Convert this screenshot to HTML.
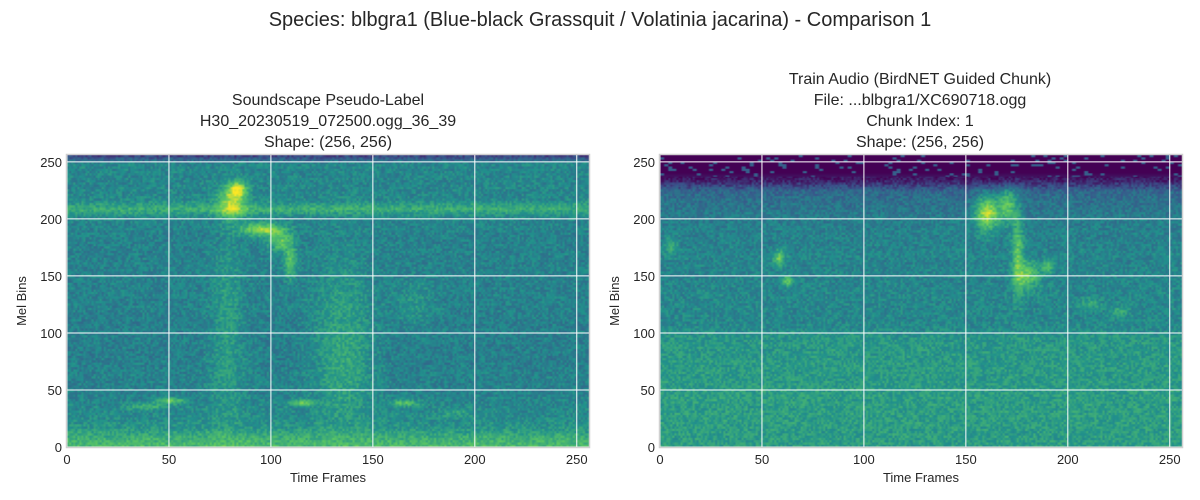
<!DOCTYPE html>
<html><head><meta charset="utf-8"><style>
body{margin:0;background:#fff;width:1200px;height:500px;overflow:hidden;font-family:"Liberation Sans",sans-serif;}
#root{position:relative;width:1200px;height:500px;}
canvas{position:absolute;}
svg{position:absolute;left:0;top:0;}
</style></head><body>
<div id="root">
<canvas id="c1" width="256" height="256" style="left:67px;top:155px;width:522px;height:292px;"></canvas>
<canvas id="c2" width="256" height="256" style="left:660px;top:155px;width:522px;height:292px;"></canvas>
<svg id="ov" width="1200" height="500" font-family="Liberation Sans, sans-serif" fill="#262626">
<text x="600" y="26" font-size="20" text-anchor="middle">Species: blbgra1 (Blue-black Grassquit / Volatinia jacarina) - Comparison 1</text>
<g font-size="16" text-anchor="middle">
<text x="328" y="105">Soundscape Pseudo-Label</text>
<text x="328" y="126">H30_20230519_072500.ogg_36_39</text>
<text x="328" y="147">Shape: (256, 256)</text></g>
<g font-size="16" text-anchor="middle">
<text x="920" y="84">Train Audio (BirdNET Guided Chunk)</text>
<text x="920" y="105">File: ...blbgra1/XC690718.ogg</text>
<text x="920" y="126">Chunk Index: 1</text>
<text x="920" y="147">Shape: (256, 256)</text></g>
<g id="axes"></g>
</svg>
</div>
<script>
// data arrays: intensity profile (every 8 mel bins, 0..256) and feature blobs [frame, bin, rx, ry, amp]
const yTicks=[0,50,100,150,200,250];
const xTicks=[0,50,100,150,200,250];
const leftProfile=[0.68,0.62,0.52,0.48,0.47,0.45,0.44,0.44,0.44,0.43,0.43,0.43,0.43,0.43,0.43,0.44,0.44,0.44,0.44,0.44,0.44,0.44,0.44,0.44,0.45,0.45,0.63,0.47,0.46,0.46,0.46,0.46,0.15];
const rightProfile=[0.55,0.55,0.55,0.55,0.55,0.55,0.55,0.54,0.54,0.54,0.53,0.53,0.52,0.47,0.46,0.46,0.46,0.46,0.45,0.45,0.45,0.45,0.44,0.44,0.43,0.42,0.39,0.37,0.33,0.12,0.0,0.0,0.0];
const leftBlobs=[[80,213,5,10,0.35],[83,225,3,5,0.45],[95,190,7,4,0.4],[104,180,4,6,0.3],[109,162,2,10,0.3],[78,130,5,40,0.09],[78,60,7,40,0.08],[135,110,10,40,0.11],[135,60,10,30,0.1],[50,40,5,2,0.3],[38,35,6,2,0.2],[115,38,5,2,0.3],[165,38,5,2,0.25],[190,30,6,3,0.1],[170,125,6,15,0.08]];
const rightBlobs=[[160,205,4,10,0.5],[170,212,3,10,0.35],[175,168,2,25,0.3],[180,150,4,8,0.3],[190,158,2,4,0.25],[58,165,2,5,0.3],[62,145,2,3,0.3],[5,175,2,5,0.2],[210,125,4,3,0.15],[225,118,3,3,0.15]];

const vir=[[68,1,84],[59,82,139],[33,145,140],[94,201,98],[253,231,37]];
function cmap(v){v=Math.max(0,Math.min(1,v));const t=v*4,i=Math.min(3,Math.floor(t)),f=t-i;const a=vir[i],b=vir[i+1];return [a[0]+(b[0]-a[0])*f,a[1]+(b[1]-a[1])*f,a[2]+(b[2]-a[2])*f];}
function hash(x,y,s){let h=(x*374761393+y*668265263+s*982451653)|0;h=(h^(h>>>13))*1274126177;h=h^(h>>>16);return ((h>>>0)%1000)/1000;}
function draw(id,prof,blobs,seed){
  const c=document.getElementById(id),ctx=c.getContext('2d'),img=ctx.createImageData(256,256);
  for(let r=0;r<256;r++){const bin=255-r;const p=bin/8,i=Math.min(31,Math.floor(p)),f=p-i;const base=prof[i]+(prof[i+1]-prof[i])*f;
    for(let x=0;x<256;x++){let v=base;
      for(const b of blobs){const dx=(x-b[0])/b[2],dy=(bin-b[1])/b[3];const d=dx*dx+dy*dy;if(d<9)v+=b[4]*Math.exp(-d/2);}
      if(base>0.05)v+=(hash(x,Math.floor(bin/2),seed)-0.5)*0.18;
      else if(hash(x>>1,bin>>1,seed)>0.88)v=0.3;
      const col=cmap(v),k=(r*256+x)*4;img.data[k]=col[0];img.data[k+1]=col[1];img.data[k+2]=col[2];img.data[k+3]=255;}}
  ctx.putImageData(img,0,0);
}
draw('c1',leftProfile,leftBlobs,1);
draw('c2',rightProfile,rightBlobs,2);

const NS='http://www.w3.org/2000/svg',g=document.getElementById('axes');
function el(t,a,txt){const e=document.createElementNS(NS,t);for(const k in a)e.setAttribute(k,a[k]);if(txt!==undefined)e.textContent=txt;g.appendChild(e);return e;}
function axes(left,side){
  const top=155,w=522,h=292,sx=v=>left+v*w/256,sy=v=>top+h-v*h/256;
  xTicks.forEach(t=>{const l=el('line',{x1:sx(t),x2:sx(t),y1:top,y2:top+h,stroke:'#fff','stroke-width':1});
    
    
    const tx=el('text',{x:sx(t),y:top+h+17,'font-size':13,'text-anchor':'middle'},t);
    
    });
  yTicks.forEach(t=>{const l=el('line',{x1:left,x2:left+w,y1:sy(t),y2:sy(t),stroke:'#fff','stroke-width':1});
    
    
    const tx=el('text',{x:left-5,y:sy(t)+5,'font-size':13,'text-anchor':'end'},t);
    
    });
  const f=el('rect',{x:left-0.5,y:top-0.5,width:w+1,height:h+1,fill:'none',stroke:'#d0d0d0','stroke-width':1.5});
  
  
  const xl=el('text',{x:left+w/2,y:482,'font-size':13,'text-anchor':'middle'},'Time Frames');
  
  
  const yl=el('text',{x:0,y:0,'font-size':13,'text-anchor':'middle',transform:`translate(${left-41},${top+h/2}) rotate(-90)`},'Mel Bins');
  
  
}
axes(67,'left');axes(660,'right');
</script>
</body></html>
